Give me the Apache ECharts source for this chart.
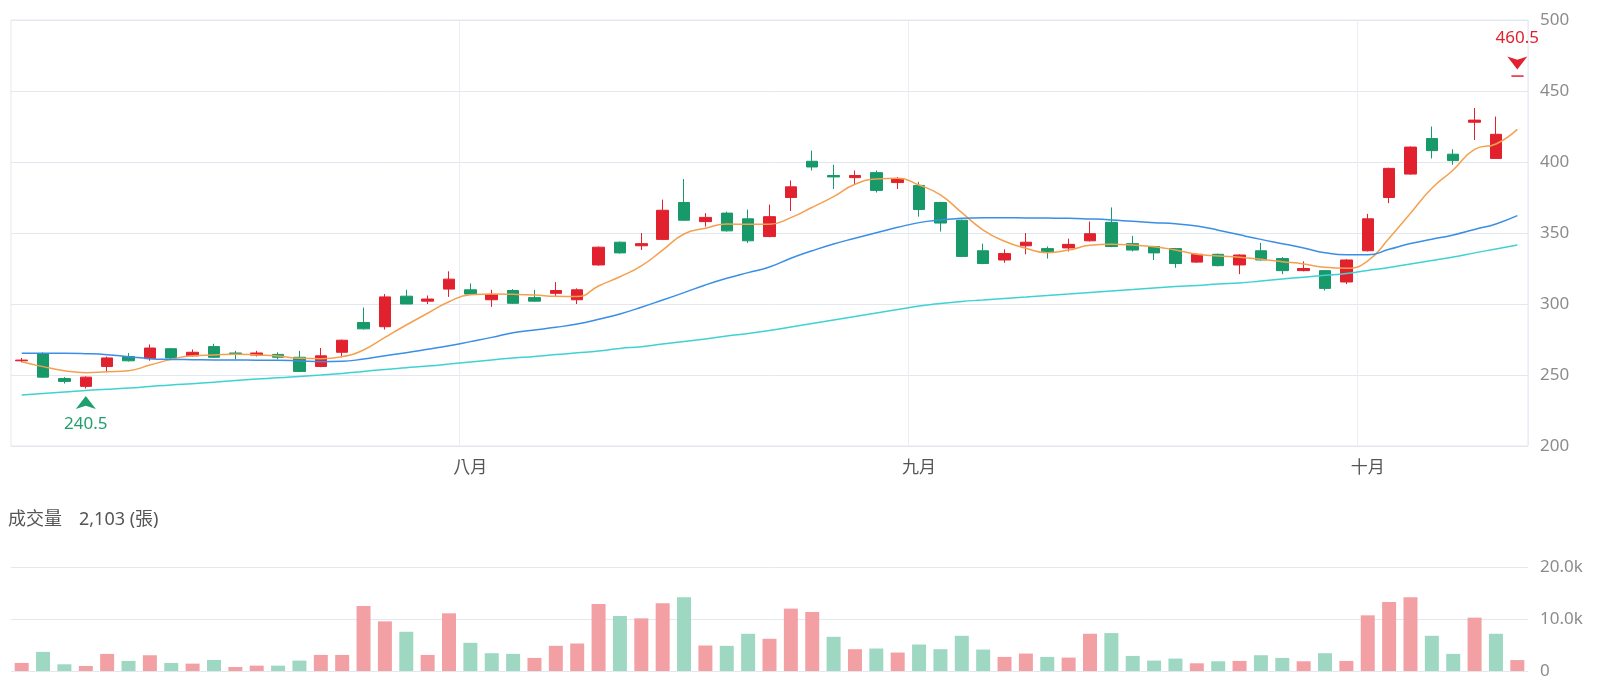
<!DOCTYPE html>
<html>
<head>
<meta charset="utf-8">
<title>K線</title>
<script src="https://cdn.jsdelivr.net/npm/echarts@6.0.0/dist/echarts.min.js"></script>
<style>
  html, body { margin: 0; padding: 0; background: #fff; }
  #kline { width: 1600px; height: 690px; }
</style>
</head>
<body>
<div id="kline"></div>
<script>
// 交易日
const dates = [
  "07/01", "07/02", "07/03", "07/04", "07/05", "07/08", "07/09", "07/10", "07/11", "07/12",
  "07/15", "07/16", "07/17", "07/18", "07/19", "07/22", "07/23", "07/26", "07/29", "07/30", "07/31",
  "08/01", "08/02", "08/05", "08/06", "08/07", "08/08", "08/09", "08/12", "08/13", "08/14",
  "08/15", "08/16", "08/19", "08/20", "08/21", "08/22", "08/23", "08/26", "08/27", "08/28", "08/29",
  "09/02", "09/03", "09/04", "09/05", "09/06", "09/09", "09/10", "09/11", "09/12", "09/13",
  "09/16", "09/17", "09/18", "09/19", "09/20", "09/23", "09/24", "09/25", "09/26", "09/27", "09/30",
  "10/01", "10/04", "10/07", "10/08", "10/09", "10/11", "10/14", "10/15",
];
const monthNames = { "07": "七月", "08": "八月", "09": "九月", "10": "十月" };

// K線 [開, 收, 低, 高]
const candles = [
  [260, 260.5, 259, 262], [265, 248.5, 248, 266], [247.5, 245.5, 244, 248.5], [242, 248.5, 240.5, 249],
  [256, 262, 252, 263], [263, 260, 259.5, 265.5], [261.5, 269, 260, 271.5], [268.5, 262, 261, 269],
  [263.5, 266, 263, 268], [270, 262.5, 262, 272], [265.5, 264.5, 261, 267], [264, 265.5, 263, 267],
  [264.5, 262.5, 261, 266], [262.5, 252.5, 252, 267], [256, 263.5, 255.5, 269], [266, 274.5, 263, 275],
  [287, 282.5, 282, 297.5], [284, 305, 282, 307], [305.5, 300, 300, 310], [302, 303.5, 300, 306],
  [310.5, 317.5, 305, 323], [310, 307, 306.5, 314.5], [303, 306.5, 298, 310], [309.5, 300.5, 300, 310.5],
  [304.5, 302, 301.5, 310], [307.5, 309.5, 305, 315.5], [303, 310, 300, 311], [327.5, 340, 327, 340.5],
  [343.5, 336, 335.5, 344], [341, 342.5, 338, 350], [345.5, 366, 345, 373.5], [371.5, 359, 358.5, 388],
  [358, 361, 354.5, 364], [364, 351.5, 351, 365], [360, 344.5, 343, 366.5], [347.5, 361.5, 347, 370],
  [375, 382.5, 365.5, 387], [400.5, 396.5, 394, 408], [390.5, 389.5, 381, 398], [389, 390.5, 384, 394],
  [392.5, 380, 378.5, 394], [385.5, 388, 381, 389.5], [383.5, 366.5, 361.5, 386], [371.5, 357, 351, 372],
  [359, 333.5, 333, 359.5], [337.5, 328.5, 328, 342.5], [331, 335.5, 329, 338.5], [341, 343.5, 335, 350],
  [339, 336.5, 332, 340.5], [339.5, 342, 337, 346], [344.5, 349.5, 344, 358], [357.5, 340.5, 340, 368],
  [342.5, 338, 337, 348], [340.5, 336, 331, 341], [339, 328.5, 325.5, 339.5], [329.5, 335, 329, 335.5],
  [335, 327, 326.5, 335.5], [327.5, 334.5, 321, 335], [337.5, 331, 330.5, 343], [332, 323.5, 321, 333],
  [323.5, 325, 323, 330], [323.5, 311, 309.5, 324], [315.5, 331, 314, 331.5], [337.5, 360, 337, 363.5],
  [375, 395.5, 371, 396], [391.5, 410.5, 391, 411], [416.5, 408, 402.5, 425], [405.5, 401, 398, 409],
  [428, 429.5, 415.5, 438], [402.5, 419.5, 402.5, 432], [460.5, 460.5, 460.5, 460.5],
];

// 均線
const ma5 = [
  259.4, 255.9, 253.0, 251.6, 252.3, 253.0, 257.0, 261.0, 263.6, 264.1, 264.6, 264.1,
  263.4, 261.8, 261.5, 262.9, 267.6, 276.5, 285.2, 293.5, 301.6, 306.5, 307.0, 306.8,
  306.3, 305.4, 305.2, 312.7, 319.2, 326.8, 338.0, 349.3, 353.3, 356.3, 356.1, 356.2,
  360.8, 368.1, 375.6, 384.3, 388.0, 388.5, 383.8, 376.8, 364.3, 352.1, 344.2, 339.2,
  336.1, 338.0, 341.3, 342.0, 341.5, 340.4, 338.0, 335.0, 333.8, 332.9, 331.5, 329.8,
  328.2, 325.8, 325.1, 330.3, 346.3, 363.9, 381.5, 394.4, 408.9, 412.7, 423.0,
];
const ma20 = [
  265.3, 265.3, 265.3, 265.0, 264.3, 262.9, 261.5, 261.0, 260.8, 260.6, 260.6, 260.4,
  260.4, 259.9, 259.4, 259.6, 261.3, 263.6, 265.7, 268.1, 270.6, 273.5, 276.5, 279.8,
  281.7, 283.6, 285.9, 289.2, 293.0, 297.7, 302.8, 308.0, 313.4, 318.1, 322.1, 326.0,
  332.2, 337.5, 342.3, 346.3, 350.2, 354.0, 357.3, 359.2, 360.4, 360.8, 360.8, 360.6,
  360.5, 360.4, 359.9, 359.2, 358.2, 357.3, 356.5, 354.9, 352.0, 348.7, 345.5, 342.5,
  339.4, 336.1, 334.6, 334.6, 338.5, 342.6, 345.6, 348.6, 352.5, 356.4, 362.2,
];
const ma60 = [
  235.9, 237.0, 238.0, 239.1, 239.9, 240.8, 241.9, 243.0, 243.9, 244.9, 246.1, 247.2,
  248.0, 249.0, 250.0, 251.1, 252.5, 253.9, 255.1, 256.3, 257.7, 259.2, 260.6, 262.0,
  263.0, 264.4, 265.6, 266.9, 268.7, 269.9, 271.8, 273.6, 275.4, 277.5, 279.2, 281.3,
  283.8, 286.3, 288.7, 291.2, 293.7, 296.1, 298.6, 300.4, 301.8, 302.8, 303.9, 304.9,
  306.0, 307.0, 308.1, 309.2, 310.2, 311.3, 312.3, 313.0, 314.1, 314.8, 316.2, 317.6,
  318.9, 320.2, 321.5, 323.6, 325.7, 328.2, 330.6, 333.1, 336.0, 338.8, 341.5,
];

// 成交量(張)
const volumes = [
  1548, 3677, 1290, 968, 3290, 1935, 3032, 1548, 1419, 2129, 774, 1032,
  1032, 2000, 3096, 3096, 12513, 9546, 7547, 3096, 11094, 5418, 3419, 3290,
  2516, 4838, 5289, 12900, 10578, 10127, 13029, 14190, 4902, 4838, 7160, 6192,
  11997, 11352, 6579, 4193, 4322, 3548, 5096, 4193, 6773, 4128, 2709, 3354,
  2709, 2580, 7160, 7289, 2903, 2000, 2387, 1484, 1871, 1935, 3032, 2516,
  1871, 3419, 1935, 10707, 13287, 14190, 6773, 3290, 10256, 7160, 2103,
];

const UP = "#e2212e";
const DOWN = "#17996a";
const FONT = "'Noto Sans', 'Noto Sans CJK TC', sans-serif";

const isMonthStart = (i) => i > 0 && dates[i].slice(0, 2) !== dates[i - 1].slice(0, 2);

// 量的顏色跟前一日收盤比
const volumeData = volumes.map((v, i) => {
  let up = i === 0 ? candles[i][1] >= candles[i][0] : candles[i][1] >= candles[i - 1][1];
  return { value: v, itemStyle: { color: up ? "#f3a0a5" : "#9ed8c3" } };
});

const lastVol = volumes[volumes.length - 1].toLocaleString("en-US");

let chart = echarts.init(document.getElementById("kline"), null, { renderer: "canvas" });
let option = {
  animation: false,
  backgroundColor: "#fff",
  textStyle: { fontFamily: FONT },
  graphic: [
    {
      type: "text",
      left: 8,
      top: 511,
      style: { text: "成交量", fill: "#555", font: "18px " + FONT },
    },
    {
      type: "text",
      left: 79,
      top: 511,
      style: { text: lastVol + " (張)", fill: "#555", font: "18px " + FONT },
    },
  ],
  grid: [
    { left: 11, right: 72, top: 20, height: 426, show: true, borderColor: "#e3e7ef", borderWidth: 1, outerBoundsMode: "none" },
    { left: 11, right: 72, top: 567, height: 104, outerBoundsMode: "none" },
  ],
  xAxis: [
    {
      type: "category",
      gridIndex: 0,
      data: dates,
      boundaryGap: true,
      axisLine: { show: false },
      axisTick: { show: false },
      axisLabel: {
        interval: (i) => isMonthStart(i),
        formatter: (v) => monthNames[v.slice(0, 2)],
        color: "#555",
        fontSize: 17,
        margin: 14,
      },
      splitLine: {
        show: true,
        interval: (i) => isMonthStart(i),
        lineStyle: { color: "#eaedf3", width: 1 },
      },
    },
    {
      type: "category",
      gridIndex: 1,
      data: dates,
      boundaryGap: true,
      axisLine: { show: false },
      axisTick: { show: false },
      axisLabel: { show: false },
      splitLine: { show: false },
    },
  ],
  yAxis: [
    {
      type: "value",
      gridIndex: 0,
      position: "right",
      min: 200,
      max: 500,
      interval: 50,
      axisLine: { show: false },
      axisTick: { show: false },
      axisLabel: { color: "#8c8c8c", fontSize: 17, margin: 12 },
      splitLine: { lineStyle: { color: "#e3e7ef", width: 1 } },
    },
    {
      type: "value",
      gridIndex: 1,
      position: "right",
      min: 0,
      max: 20000,
      interval: 10000,
      axisLine: { show: false },
      axisTick: { show: false },
      axisLabel: {
        color: "#8c8c8c",
        fontSize: 17,
        margin: 12,
        formatter: (v) => (v === 0 ? "0" : (v / 1000).toFixed(1) + "k"),
      },
      splitLine: { lineStyle: { color: "#e3e7ef", width: 1 } },
    },
  ],
  series: [
    {
      name: "K",
      type: "candlestick",
      xAxisIndex: 0,
      yAxisIndex: 0,
      barWidth: 12,
      data: candles,
      itemStyle: {
        color: UP,
        color0: DOWN,
        borderColor: UP,
        borderColor0: DOWN,
        borderWidth: 1,
      },
      markPoint: {
        data: [
          {
            type: "min",
            valueDim: "lowest",
            symbol: "path://M10,0 L20,13 L10,9.75 L0,13 Z",
            symbolSize: [20, 13],
            symbolOffset: [0, 14],
            itemStyle: { color: "#1f9e6f" },
            label: {
              show: true,
              position: "bottom",
              distance: 7,
              color: "#1f9e6f",
              fontSize: 17,
              formatter: (p) => String(p.value),
            },
          },
          {
            type: "max",
            valueDim: "highest",
            symbol: "path://M10,13 L20,0 L10,3.25 L0,0 Z",
            symbolSize: [20, 13],
            symbolOffset: [0, -13],
            itemStyle: { color: UP },
            label: {
              show: true,
              position: "top",
              distance: 10,
              color: UP,
              fontSize: 17,
              formatter: (p) => String(p.value),
            },
          },
        ],
      },
    },
    {
      name: "MA5",
      type: "line",
      data: ma5,
      smooth: true,
      showSymbol: false,
      lineStyle: { color: "#f5a04f", width: 1.5 },
      itemStyle: { color: "#f5a04f" },
    },
    {
      name: "MA20",
      type: "line",
      data: ma20,
      smooth: true,
      showSymbol: false,
      lineStyle: { color: "#3a8ee6", width: 1.5 },
      itemStyle: { color: "#3a8ee6" },
    },
    {
      name: "MA60",
      type: "line",
      data: ma60,
      smooth: true,
      showSymbol: false,
      lineStyle: { color: "#3fd2d2", width: 1.5 },
      itemStyle: { color: "#3fd2d2" },
    },
    {
      name: "成交量",
      type: "bar",
      xAxisIndex: 1,
      yAxisIndex: 1,
      barWidth: 14,
      data: volumeData,
    },
  ],
};

option && chart.setOption(option);
</script>
</body>
</html>
